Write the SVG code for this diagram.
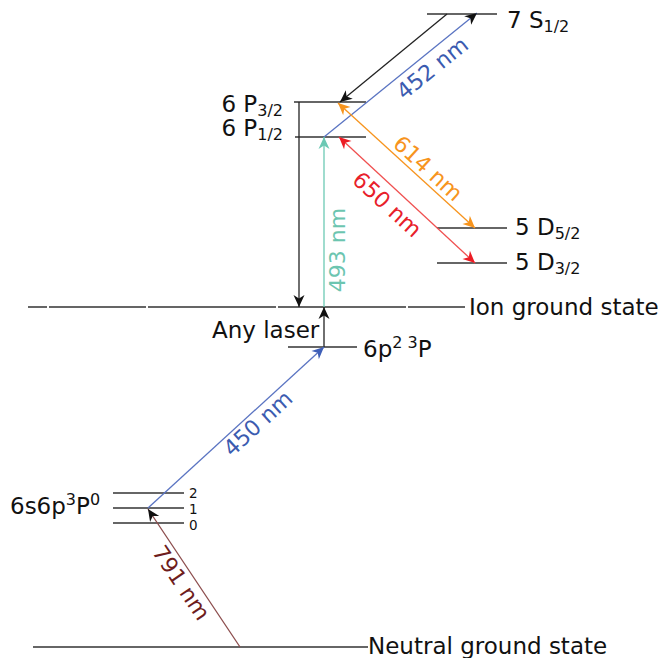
<svg xmlns="http://www.w3.org/2000/svg" width="658" height="658" viewBox="0 0 658 658">
<style>
.lvl{stroke:#333;stroke-width:1.5;fill:none}
.lab{font-family:"DejaVu Sans",sans-serif;font-size:23px;fill:#111}
.sm{font-size:16px}
.dg{font-family:"DejaVu Sans",sans-serif;font-size:13.5px;fill:#111}
.nm{font-family:"DejaVu Sans",sans-serif;font-size:22px;text-anchor:middle}
.c{fill:none;stroke-width:1.3}
</style>
<defs>
<marker id="hk" viewBox="-13 -7 14 14" markerWidth="14" markerHeight="14" markerUnits="userSpaceOnUse" refX="0" refY="0" orient="auto"><path d="M0,0 L-12,-5.5 L-8.5,0 L-12,5.5 Z" fill="#111"/></marker>
<marker id="hb" viewBox="-13 -7 14 14" markerWidth="14" markerHeight="14" markerUnits="userSpaceOnUse" refX="0" refY="0" orient="auto"><path d="M0,0 L-12,-5.5 L-8.5,0 L-12,5.5 Z" fill="#3f5fb8"/></marker>
<marker id="ht" viewBox="-13 -7 14 14" markerWidth="14" markerHeight="14" markerUnits="userSpaceOnUse" refX="0" refY="0" orient="auto"><path d="M0,0 L-12,-5.5 L-8.5,0 L-12,5.5 Z" fill="#6cc9b4"/></marker>
<marker id="ho" viewBox="-13 -7 14 14" markerWidth="14" markerHeight="14" markerUnits="userSpaceOnUse" refX="0" refY="0" orient="auto-start-reverse"><path d="M0,0 L-12,-5.5 L-8.5,0 L-12,5.5 Z" fill="#f7941d"/></marker>
<marker id="hr" viewBox="-13 -7 14 14" markerWidth="14" markerHeight="14" markerUnits="userSpaceOnUse" refX="0" refY="0" orient="auto-start-reverse"><path d="M0,0 L-12,-5.5 L-8.5,0 L-12,5.5 Z" fill="#ec1c24"/></marker>
</defs>
<rect width="658" height="658" fill="#fff"/>

<g id="s7">
<line class="lvl" x1="427" y1="14" x2="497" y2="14"/>
<text class="lab" x="507" y="28">7 S<tspan class="sm" dy="4">1/2</tspan></text>
</g>
<g id="p32">
<line class="lvl" x1="294" y1="102" x2="366" y2="102"/>
<text class="lab" x="283" y="112" text-anchor="end">6 P<tspan class="sm" dy="4">3/2</tspan></text>
</g>
<g id="p12">
<line class="lvl" x1="295" y1="137" x2="366" y2="137"/>
<text class="lab" x="283" y="136" text-anchor="end">6 P<tspan class="sm" dy="4">1/2</tspan></text>
</g>
<g id="d52">
<line class="lvl" x1="437" y1="228" x2="507" y2="228"/>
<text class="lab" x="515" y="235">5 D<tspan class="sm" dy="4">5/2</tspan></text>
</g>
<g id="d32">
<line class="lvl" x1="437" y1="263" x2="507" y2="263"/>
<text class="lab" x="515" y="270">5 D<tspan class="sm" dy="4">3/2</tspan></text>
</g>
<g id="ion">
<path class="lvl" d="M28,307 H47 M49,307 H146 M148,307 H276 M278,307 H406 M408,307 H465"/>
<text class="lab" x="469" y="315">Ion ground state</text>
</g>
<g id="p2">
<line class="lvl" x1="288" y1="347" x2="357" y2="347"/>
<text class="lab" x="363" y="357">6p<tspan class="sm" dy="-9">2 3</tspan><tspan dy="9">P</tspan></text>
</g>
<g id="anylaser">
<text class="lab" x="212" y="338">Any laser</text>
</g>
<g id="s6p">
<line class="lvl" x1="113" y1="493" x2="184" y2="493"/>
<line class="lvl" x1="113" y1="508" x2="184" y2="508"/>
<line class="lvl" x1="113" y1="523" x2="184" y2="523"/>
<text class="lab" x="10" y="514">6s6p<tspan class="sm" dy="-9">3</tspan><tspan dy="9">P</tspan><tspan class="sm" dy="-9">0</tspan></text>
<text class="dg" x="189" y="498">2</text>
<text class="dg" x="189" y="514">1</text>
<text class="dg" x="189" y="530">0</text>
</g>
<g id="neutral">
<line class="lvl" x1="33" y1="647" x2="368" y2="647"/>
<text class="lab" x="368" y="654">Neutral ground state</text>
</g>

<g id="connectors">
<line class="c" x1="447" y1="14" x2="340" y2="102" stroke="#222" marker-end="url(#hk)"/>
<line class="c" x1="324" y1="137" x2="477" y2="13" stroke="#5a74c2" stroke-width="1.2" marker-end="url(#hk)"/>
<line class="c" x1="299" y1="102" x2="299" y2="307" stroke="#222" marker-end="url(#hk)"/>
<line class="c" x1="324" y1="307" x2="324" y2="137" stroke="#6cc9b4" marker-end="url(#ht)"/>
<line class="c" x1="338" y1="103" x2="475" y2="228" stroke="#f7941d" marker-start="url(#ho)" marker-end="url(#ho)"/>
<line class="c" x1="339" y1="137" x2="475" y2="263" stroke="#f05050" marker-start="url(#hr)" marker-end="url(#hr)"/>
<line class="c" x1="324" y1="347" x2="324" y2="307" stroke="#222" marker-end="url(#hk)"/>
<line class="c" x1="148" y1="508" x2="324" y2="347" stroke="#5a74c2" stroke-width="1.2" marker-end="url(#hb)"/>
<line class="c" x1="240" y1="647" x2="148" y2="509" stroke="#8a4a4a" stroke-width="1.2" marker-end="url(#hk)"/>
<text class="nm" fill="#3b5bb0" transform="translate(437,74) rotate(-39)">452 nm</text>
<text class="nm" fill="#f7941d" transform="translate(423,174) rotate(42.4)">614 nm</text>
<text class="nm" fill="#e8202a" transform="translate(382,210) rotate(42.6)">650 nm</text>
<text class="nm" fill="#6cc5b0" transform="translate(345,250) rotate(-90)">493 nm</text>
<text class="nm" fill="#3b5bb0" transform="translate(263,429) rotate(-42.5)">450 nm</text>
<text class="nm" fill="#6e1d1d" transform="translate(175,587) rotate(56)">791 nm</text>
</g>
</svg>
